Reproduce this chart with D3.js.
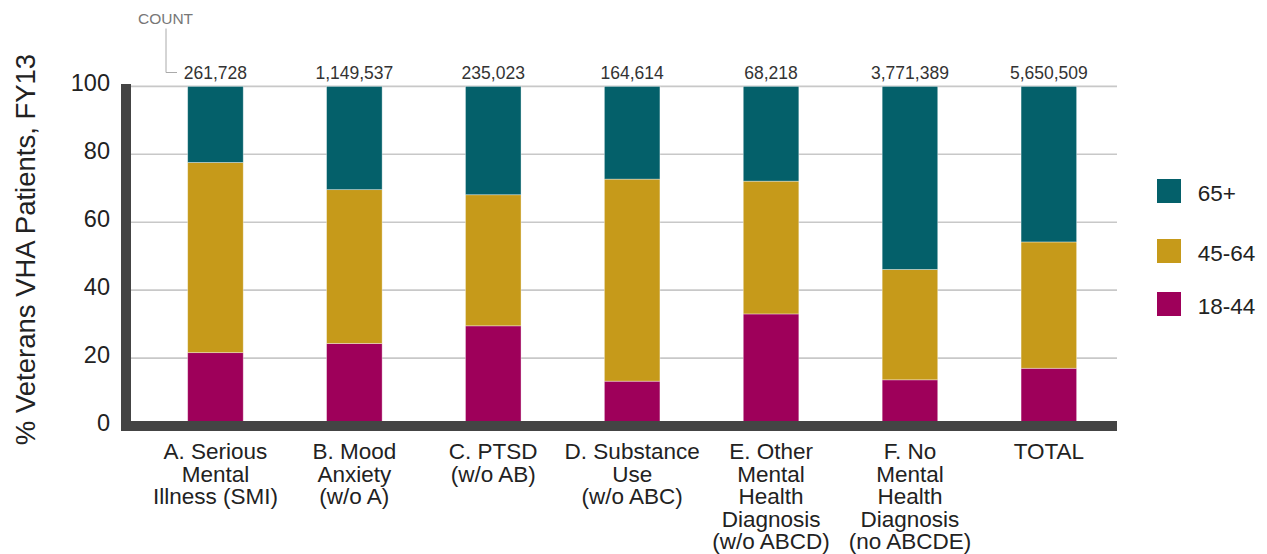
<!DOCTYPE html>
<html>
<head>
<meta charset="utf-8">
<script src="https://cdn.jsdelivr.net/npm/d3@7"></script>
<style>
  html, body { margin: 0; padding: 0; background: #fff; }
  svg { display: block; font-family: "Liberation Sans", Arial, sans-serif; }
</style>
</head>
<body>
<svg id="chart" width="1267" height="554"></svg>
<script>
// Diagnosis groups (label lines) and patient counts
const categories = [
  ["A. Serious", "Mental", "Illness (SMI)"],
  ["B. Mood", "Anxiety", "(w/o A)"],
  ["C. PTSD", "(w/o AB)"],
  ["D. Substance", "Use", "(w/o ABC)"],
  ["E. Other", "Mental", "Health", "Diagnosis", "(w/o ABCD)"],
  ["F. No", "Mental", "Health", "Diagnosis", "(no ABCDE)"],
  ["TOTAL"]
];
const counts = [261728, 1149537, 235023, 164614, 68218, 3771389, 5650509];

// Age group shares (%), bottom to top
const ageGroups = ["18-44", "45-64", "65+"];
const age18to44 = [21.6, 24.3, 29.5, 13.2, 33.0, 13.6, 17.0];
const age45to64 = [56.0, 45.3, 38.6, 59.5, 39.1, 32.5, 37.2];
const age65plus = [22.4, 30.4, 31.9, 27.3, 27.9, 53.9, 45.8];
const yTicks = [0, 20, 40, 60, 80, 100];

const colors = { "18-44": "#9e005a", "45-64": "#c69a1a", "65+": "#04606a" };

const svg = d3.select("#chart");
const ids = categories.map((c, i) => "c" + i);

const rows = ids.map((id, i) => ({
  id,
  "18-44": age18to44[i],
  "45-64": age45to64[i],
  "65+": age65plus[i]
}));

const x = d3.scaleBand().domain(ids).range([146, 1118.3]).paddingInner(0.6).paddingOuter(0.3);
const y = d3.scaleLinear().domain([0, 100]).range([426, 86.4]);

const plotLeft = 131, plotRight = 1117;

// Gridlines
svg.append("g").selectAll("line").data(yTicks.filter(t => t > 0)).join("line")
  .attr("x1", plotLeft).attr("x2", plotRight)
  .attr("y1", d => y(d)).attr("y2", d => y(d))
  .attr("stroke", "#c8c8c8").attr("stroke-width", 1.6);

// Stacked bars
const stack = d3.stack().keys(ageGroups)(rows);
svg.append("g").selectAll("g").data(stack).join("g")
  .attr("fill", d => colors[d.key])
  .selectAll("rect").data(d => d).join("rect")
  .attr("x", d => x(d.data.id))
  .attr("width", x.bandwidth())
  .attr("y", d => y(d[1]))
  .attr("height", d => y(d[0]) - y(d[1]))
  .attr("stroke", "#ffffff").attr("stroke-opacity", 0.45).attr("stroke-width", 0.8);

// Thick axis lines
svg.append("rect").attr("x", 121).attr("y", 84).attr("width", 10).attr("height", 347).attr("fill", "#444");
svg.append("rect").attr("x", 121).attr("y", 421).attr("width", plotRight - 121).attr("height", 10).attr("fill", "#444");

// Y axis tick labels
const yAxis = d3.axisLeft(y).tickValues(yTicks).tickSize(0).tickPadding(0);
const yg = svg.append("g").attr("transform", "translate(110,0)").call(yAxis);
yg.select(".domain").remove();
yg.selectAll("text")
  .attr("font-size", 23.5).attr("fill", "#222")
  .attr("font-family", "Liberation Sans, Arial, sans-serif")
  .attr("dy", null).attr("y", 4.5).attr("dominant-baseline", "auto");

// Y axis title
svg.append("text")
  .attr("transform", "translate(35,249.5) rotate(-90)")
  .attr("text-anchor", "middle")
  .attr("font-size", 27.5).attr("fill", "#222")
  .text("% Veterans VHA Patients, FY13");

// Category labels
const xl = svg.append("g").selectAll("text").data(categories).join("text")
  .attr("text-anchor", "middle")
  .attr("font-size", 22.5).attr("fill", "#222")
  .attr("x", (d, i) => x(ids[i]) + x.bandwidth() / 2)
  .attr("y", 459.3);
xl.selectAll("tspan").data(d => d).join("tspan")
  .attr("x", function () { return d3.select(this.parentNode).attr("x"); })
  .attr("dy", (d, i) => i === 0 ? 0 : 22.5)
  .text(d => d);

// Count labels
const fmt = d3.format(",");
svg.append("g").selectAll("text").data(counts).join("text")
  .attr("text-anchor", "middle")
  .attr("font-size", 17.5).attr("fill", "#333")
  .attr("x", (d, i) => x(ids[i]) + x.bandwidth() / 2)
  .attr("y", 79.3)
  .text(d => fmt(d));

// "COUNT" caption with leader
svg.append("text")
  .attr("x", 165.5).attr("y", 24.3)
  .attr("text-anchor", "middle")
  .attr("font-size", 15.5).attr("fill", "#777")
  .text("COUNT");
svg.append("path")
  .attr("d", "M166,28.5V72.5H177")
  .attr("fill", "none").attr("stroke", "#aaa").attr("stroke-width", 1);

// Legend (top to bottom: 65+, 45-64, 18-44)
const legendItems = ageGroups.slice().reverse();
const legendTop = [179, 239, 292];
const lg = svg.append("g").selectAll("g").data(legendItems).join("g")
  .attr("transform", (d, i) => `translate(1157,${legendTop[i]})`);
lg.append("rect").attr("width", 24).attr("height", 24).attr("fill", d => colors[d]);
lg.append("text").attr("x", 40.7).attr("y", 21.5)
  .attr("font-size", 22.5).attr("fill", "#222")
  .text(d => d);
</script>
</body>
</html>
